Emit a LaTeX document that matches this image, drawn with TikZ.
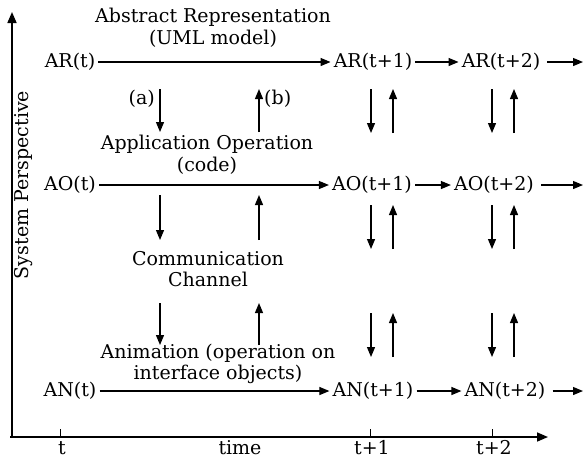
\documentclass[tikz,border=0pt]{standalone}
\usepackage{fontspec}
\setmainfont{DejaVu Serif}
\usetikzlibrary{arrows.meta}

\begin{document}
\begin{tikzpicture}[
  x=1pt, y=-1pt,
  every node/.style={font=\fontsize{19}{21.5}\selectfont, inner sep=3pt},
  flow/.style={-{Triangle[length=10pt,width=8pt]}, line width=1.2pt},
  axis/.style={-{Triangle[length=11pt,width=9pt]}, line width=1.6pt},
  caption/.style={align=center, inner sep=0pt}]
\useasboundingbox (0,0) rectangle (585,459);
% axes
\coordinate (origin) at (10,437);
\coordinate (ybase) at (12,438);
\coordinate (ytop) at (12,12);
\coordinate (xend) at (548,437);
\draw[axis] (ybase) -- (ytop);
\draw[axis] (origin) -- (xend);
\node[rotate=90] (persp) at (24,185) {System Perspective};
\foreach \x/\lab/\nm in {60/t/tt, 370/t+1/tone, 492/t+2/ttwo} {
  \draw[line width=1pt] (\x,429) -- (\x,437);
  \node[anchor=base, inner sep=0pt] (\nm) at (\x+2,454) {\lab};
}
\node[anchor=base, inner sep=0pt] (time) at (240,454) {time};

% states
\node (ARt)  at (70,62)   {AR(t)};
\node (ARt1) at (373,62)  {AR(t+1)};
\node (ARt2) at (501,62)  {AR(t+2)};
\node (AOt)  at (70,185)  {AO(t)};
\node (AOt1) at (372,185) {AO(t+1)};
\node (AOt2) at (494,185) {AO(t+2)};
\node (ANt)  at (70,391)  {AN(t)};
\node (ANt1) at (373,391) {AN(t+1)};
\node (ANt2) at (505,391) {AN(t+2)};
\coordinate (ARend) at (583,62);
\coordinate (AOend) at (583,185);
\coordinate (ANend) at (583,391);
\foreach \r in {AR,AO,AN} {
  \draw[flow] (\r t) -- (\r t1);
  \draw[flow] (\r t1) -- (\r t2);
  \draw[flow, shorten <=4pt] (\r t2) -- (\r end);
}

% captions
\node[caption] (absrep) at (213,28) {Abstract Representation\\(UML model)};
\node[caption] (appop)  at (207,155) {Application Operation\\(code)};
\node[caption] (comm)   at (208,269) {Communication\\Channel};
\node[caption] (anim)   at (218,364) {Animation (operation on\\interface objects)};

% mappings between levels
\foreach \xd/\xu/\ya/\yb [count=\i] in {
    160/259/89/132, 160/259/195/240, 160/259/303/345,
    371/393/89/133, 371/393/205/249, 371/393/313/357,
    492/514/89/133, 492/514/205/249, 492/514/313/357} {
  \coordinate (dn\i a) at (\xd,\ya);
  \coordinate (dn\i b) at (\xd,\yb);
  \coordinate (up\i a) at (\xu,\yb);
  \coordinate (up\i b) at (\xu,\ya);
  \draw[flow] (dn\i a) -- (dn\i b);
  \draw[flow] (up\i a) -- (up\i b);
}
\node[left=2pt] (lbla) at (dn1a |- 0,99) {(a)};
\node[right=2pt] (lblb) at (up1a |- 0,99) {(b)};
\end{tikzpicture}
\end{document}
